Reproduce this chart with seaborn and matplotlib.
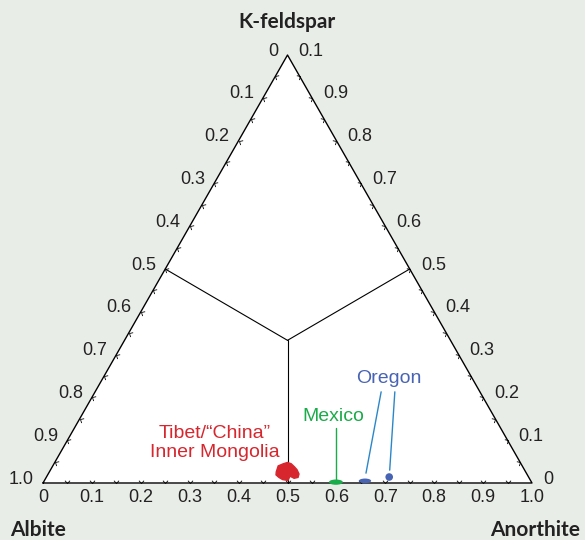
import numpy as np
import matplotlib
matplotlib.use("Agg")
import matplotlib.pyplot as plt
from matplotlib.path import Path
from matplotlib.markers import MarkerStyle
from matplotlib.transforms import Affine2D
import seaborn as sns

# compositions as fractions of anorthite (An) and K-feldspar (Or); albite is the rest
tibet_an = [0.464, 0.461, 0.469, 0.476, 0.485, 0.495, 0.504, 0.513, 0.515, 0.508,
            0.497, 0.498, 0.486, 0.476, 0.467]
tibet_or = [0.026, 0.040, 0.045, 0.048, 0.045, 0.038, 0.031, 0.021, 0.013, 0.011,
            0.016, 0.006, 0.008, 0.013, 0.019]
mexico_an = [0.598]
mexico_or = [0.002]
oregon_an = [0.656, 0.701]
oregon_or = [0.005, 0.014]

bottom_labels = ["0", "0.1", "0.2", "0.3", "0.4", "0.5", "0.6", "0.7", "0.8", "0.9", "1.0"]
left_labels = ["0", "0.1", "0.2", "0.3", "0.4", "0.5", "0.6", "0.7", "0.8", "0.9", "1.0"]
right_labels = ["0.1", "0.9", "0.8", "0.7", "0.6", "0.5", "0.4", "0.3", "0.2", "0.1", "0"]
minor_ticks = [0.05, 0.1, 0.15, 0.2, 0.25, 0.3, 0.35, 0.4, 0.45, 0.5,
               0.55, 0.6, 0.65, 0.7, 0.75, 0.8, 0.85, 0.9, 0.95]

BG = "#e9ede7"
RED = "#d7262e"
GREEN = "#1aab4a"
BLUE = "#4763b4"
LEADER = "#2b87c8"


def tern(an, orr):
    an = np.asarray(an, dtype=float)
    orr = np.asarray(orr, dtype=float)
    return an + orr / 2, orr


sns.set_theme(style="white")
plt.rcParams["font.family"] = ["Liberation Sans", "DejaVu Sans"]

fig = plt.figure(figsize=(5.85, 5.4), dpi=100, facecolor=BG)
ax = fig.add_axes([0, 0, 1, 1])
ax.set_facecolor(BG)
ax.set_xlim(-43 / 489, 542 / 489)
ax.set_ylim(-57 / 428, 483 / 428)
ax.axis("off")

# triangle
ax.fill([0, 1, 0.5], [0, 0, 1], color="white", zorder=0)
ax.plot([0, 1, 0.5, 0], [0, 0, 1, 0], color="black", lw=1.0, zorder=2)

# field boundaries (An=Ab=Or split)
cx, cy = tern(1 / 3, 1 / 3)
for an, orr in [(0, 0.5), (0.5, 0.5), (0.5, 0)]:
    ex, ey = tern(an, orr)
    ax.plot([cx, ex], [cy, ey], color="black", lw=0.8, zorder=2)

# small chevron ticks on each edge
chev = Path([(-1, 1.1), (0, 0), (1, 1.1)], [Path.MOVETO, Path.LINETO, Path.LINETO])
t = np.array(minor_ticks)
edges = [
    (tern(t, 0 * t), 0),          # bottom
    (tern(0 * t, t), -120),       # left
    (tern(1 - t, t), 120),        # right
]
for (tx, ty), rot in edges:
    m = MarkerStyle(chev, transform=Affine2D().rotate_deg(rot))
    ax.plot(tx, ty, ls="none", marker=m, ms=4, mec="black", mew=0.6, mfc="none", zorder=3)

# tick labels
lab_kw = dict(textcoords="offset pixels", fontsize=13, color="#222222")
for i, lab in enumerate(bottom_labels):
    x, y = tern(i / 10, 0)
    ax.annotate(lab, (x, y), xytext=(0, -6), ha="center", va="top", **lab_kw)
for i, lab in enumerate(left_labels):
    x, y = tern(0, 1 - i / 10)
    ax.annotate(lab, (x, y), xytext=(-9, 4), ha="right", va="center", **lab_kw)
for i, lab in enumerate(right_labels):
    x, y = tern(i / 10, 1 - i / 10)
    ax.annotate(lab, (x, y), xytext=(11, 4), ha="left", va="center", **lab_kw)

# vertex names
title_kw = dict(textcoords="offset pixels", fontsize=15, fontweight="bold",
                family="Lato", color="#222222", va="center")
ax.annotate("K-feldspar", tern(0, 1), xytext=(0, 33), ha="center", **title_kw)
ax.annotate("Albite", tern(0, 0), xytext=(-5, -47), ha="center", **title_kw)
ax.annotate("Anorthite", tern(1, 0), xytext=(3, -47), ha="center", **title_kw)

# data
bx, by = tern(tibet_an, tibet_or)
ax.fill(bx, by, color=RED, lw=1.0, ec=RED, zorder=4)

ell = Path.unit_circle().transformed(Affine2D().scale(1.0, 0.38))
mx, my = tern(mexico_an, mexico_or)
sns.scatterplot(x=mx, y=my, marker=ell, s=100, color=GREEN, edgecolor="none", ax=ax, zorder=4)
ox, oy = tern(oregon_an, oregon_or)
sns.scatterplot(x=ox[:1], y=oy[:1], marker=ell, s=78, color=BLUE, edgecolor="none", ax=ax, zorder=4)
sns.scatterplot(x=ox[1:], y=oy[1:], marker="o", s=30, color=BLUE, edgecolor="none", ax=ax, zorder=4)

# leaders and labels
gx0, gy0 = tern(0.596, 0.007)
gx1, gy1 = tern(0.535, 0.128)
ax.plot([gx0, gx0], [gy0, gy1], color=GREEN, lw=1.0, zorder=3)
ax.text(*tern(0.515, 0.1565), "Mexico", color=GREEN, fontsize=14, ha="center", va="center")

for (a0, o0), (a1, o1) in [((0.649, 0.023), (0.585, 0.213)),
                           ((0.694, 0.030), (0.613, 0.213))]:
    x0, y0 = tern(a0, o0)
    x1, y1 = tern(a1, o1)
    ax.plot([x0, x1], [y0, y1], color=LEADER, lw=1.0, zorder=3)
ax.text(*tern(0.585, 0.2453), "Oregon", color=BLUE, fontsize=14, ha="center", va="center")

ax.text(*tern(0.305, 0.0935), "Tibet/\u201cChina\u201d\nInner Mongolia", color=RED,
        fontsize=14, ha="center", va="center", linespacing=1.1)

fig.savefig("out.png", dpi=100, facecolor=BG)
